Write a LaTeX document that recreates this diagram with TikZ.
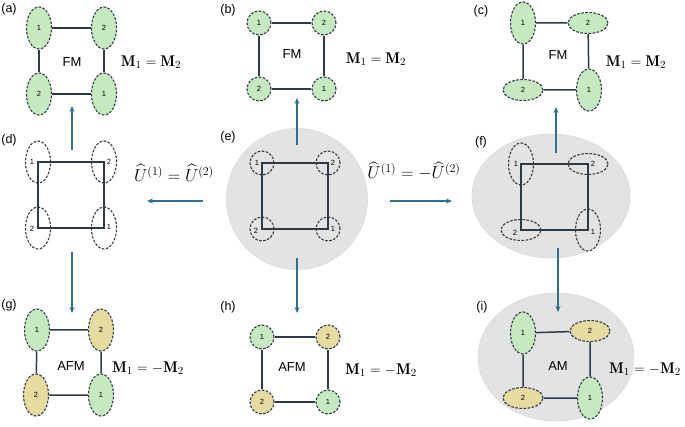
\documentclass[tikz,border=0pt]{standalone}
\usepackage{amsmath, amssymb}
\usepackage{fontspec}
\setsansfont{Liberation Sans}
\usepackage{tikz}
\usetikzlibrary{shapes.geometric, arrows.meta, positioning}

\definecolor{sitegreen}{HTML}{C6E9C0}
\definecolor{sitetan}{HTML}{E6DBA0}
\definecolor{bondgray}{HTML}{2E3B47}
\definecolor{flowteal}{HTML}{2F6F8F}
\definecolor{bubblegray}{HTML}{E3E3E3}

\begin{document}
\begin{tikzpicture}[x=1pt, y=-1pt,
        site/.style={draw=bondgray, dash pattern=on 2.6pt off 1.5pt, line width=1.1pt, inner sep=0pt, font=\sffamily\fontsize{7.5}{7.5}\selectfont},
        vsite/.style={site, ellipse, minimum width=25pt, minimum height=42pt},
        hsite/.style={site, ellipse, minimum width=40pt, minimum height=21pt},
        rsite/.style={site, circle, minimum size=24pt},
        up/.style={fill=sitegreen},
        dn/.style={fill=sitetan},
        num/.style={font=\sffamily\fontsize{7.5}{7.5}\selectfont, inner sep=0pt},
        bond/.style={draw=bondgray, line width=1.5pt},
        flow/.style={draw=flowteal, line width=1.3pt, -{Stealth[length=6pt, width=5pt]}},
        tag/.style={font=\sffamily\fontsize{12.5}{12.5}\selectfont},
        phase/.style={font=\sffamily\fontsize{13}{13}\selectfont},
        rel/.style={font=\fontsize{15.5}{15.5}\selectfont},
        cond/.style={font=\fontsize{17}{17}\selectfont},
        bubble/.style={fill=bubblegray, draw=gray!30, line width=0.6pt}
    ]
    \useasboundingbox (0,0) rectangle (685,427);

    % grey backgrounds
    \node[bubble, circle, minimum size=141pt] (ebub) at (297,199) {};
    \node[bubble, ellipse, minimum width=158pt, minimum height=124pt] (fbub) at (551,196) {};
    \node[bubble, ellipse, minimum width=156pt, minimum height=128pt] (ibub) at (556,357) {};

    % (a) FM
    \node[tag] (atag) at (9,9) {(a)};
    \node[vsite, up] (a1) at (39,28) {1};
    \node[vsite, up] (a2) at (104,28) {2};
    \node[vsite, up] (a3) at (39,94) {2};
    \node[vsite, up] (a4) at (104,94) {1};
    \draw[bond] (a1) -- (a2) -- (a4) -- (a3) -- (a1);
    \node[phase] (aname) at (72,62) {FM};
    \node[rel] (arel) at (151,62) {$\mathbf{M}_1=\mathbf{M}_2$};

    % (b) FM
    \node[tag] (btag) at (228,10) {(b)};
    \node[rsite, up] (b1) at (259,23) {1};
    \node[rsite, up] (b2) at (324,23) {2};
    \node[rsite, up] (b3) at (259,89) {2};
    \node[rsite, up] (b4) at (324,89) {1};
    \draw[bond] (b1) -- (b2) -- (b4) -- (b3) -- (b1);
    \node[phase] (bname) at (292,54) {FM};
    \node[rel] (brel) at (376,59) {$\mathbf{M}_1=\mathbf{M}_2$};

    % (c) FM
    \node[tag] (ctag) at (481,11) {(c)};
    \node[vsite, up] (c1) at (523,23) {1};
    \node[hsite, up] (c2) at (588,23) {2};
    \node[hsite, up] (c3) at (523,90) {2};
    \node[vsite, up] (c4) at (589,90) {1};
    \draw[bond] (c1) -- (c2) -- (c4) -- (c3) -- (c1);
    \node[phase] (cname) at (558,55) {FM};
    \node[rel] (crel) at (636,62) {$\mathbf{M}_1=\mathbf{M}_2$};

    % (d) lattice, U1 = U2
    \node[tag] (dtag) at (9,140) {(d)};
    \node[vsite, label={[num, xshift=-6pt]center:1}] (d1) at (38,162) {};
    \node[vsite, label={[num, xshift=5pt]center:2}] (d2) at (104,162) {};
    \node[vsite, label={[num, xshift=-6pt, yshift=-1pt]center:2}] (d3) at (38,228) {};
    \node[vsite, label={[num, xshift=5pt, yshift=1pt]center:1}] (d4) at (104,228) {};
    \draw[bond] (d1.center) -- (d2.center) -- (d4.center) -- (d3.center) -- cycle;

    % (e) lattice
    \node[tag] (etag) at (228,137) {(e)};
    \node[rsite, label={[num, xshift=-5pt]center:1}] (e1) at (262,163) {};
    \node[rsite, label={[num, xshift=5pt]center:2}] (e2) at (328,163) {};
    \node[rsite, label={[num, xshift=-6pt, yshift=-2pt]center:2}] (e3) at (262,229) {};
    \node[rsite, label={[num, xshift=5pt]center:1}] (e4) at (328,229) {};
    \draw[bond] (e1.center) -- (e2.center) -- (e4.center) -- (e3.center) -- cycle;

    % (f) lattice, U1 = -U2
    \node[tag] (ftag) at (481,142) {(f)};
    \node[vsite, label={[num, xshift=-5pt]center:1}] (f1) at (521,164) {};
    \node[hsite, label={[num, xshift=5pt]center:2}] (f2) at (588,164) {};
    \node[hsite, label={[num, xshift=-6pt, yshift=-3pt]center:2}] (f3) at (521,230) {};
    \node[vsite, label={[num, xshift=5pt, yshift=-2pt]center:1}] (f4) at (588,230) {};
    \draw[bond] (f1.center) -- (f2.center) -- (f4.center) -- (f3.center) -- cycle;

    % (g) AFM
    \node[tag] (gtag) at (9,305) {(g)};
    \node[vsite, up] (g1) at (37,330) {1};
    \node[vsite, dn] (g2) at (101,330) {2};
    \node[vsite, dn] (g3) at (36,395) {2};
    \node[vsite, up] (g4) at (101,395) {1};
    \draw[bond] (g1) -- (g2) -- (g4) -- (g3) -- (g1);
    \node[phase] (gname) at (71,366) {AFM};
    \node[rel] (grel) at (148,368) {$\mathbf{M}_1=-\mathbf{M}_2$};

    % (h) AFM
    \node[tag] (htag) at (228,307) {(h)};
    \node[rsite, up] (h1) at (262,337) {1};
    \node[rsite, dn] (h2) at (328,337) {2};
    \node[rsite, dn] (h3) at (262,402) {2};
    \node[rsite, up] (h4) at (328,402) {1};
    \draw[bond] (h1) -- (h2) -- (h4) -- (h3) -- (h1);
    \node[phase] (hname) at (292,367) {AFM};
    \node[rel] (hrel) at (381,370) {$\mathbf{M}_1=-\mathbf{M}_2$};

    % (i) AM
    \node[tag] (itag) at (482,307) {(i)};
    \node[vsite, up] (i1) at (523,333) {1};
    \node[hsite, dn] (i2) at (590,331) {2};
    \node[hsite, dn] (i3) at (523,398) {2};
    \node[vsite, up] (i4) at (590,398) {1};
    \draw[bond] (i1) -- (i2) -- (i4) -- (i3) -- (i1);
    \node[phase] (iname) at (558,366) {AM};
    \node[rel] (irel) at (645,369) {$\mathbf{M}_1=-\mathbf{M}_2$};

    % symmetry conditions
    \node[cond] (same) at (174,173) {$\widehat{U}^{(1)}=\widehat{U}^{(2)}$};
    \node[cond] (flip) at (414,171) {$\widehat{U}^{(1)}=-\widehat{U}^{(2)}$};

    % arrows between panels
    \coordinate (eN) at (297,145);  \coordinate (bS) at (297,98);
    \coordinate (eS) at (297,258);  \coordinate (hN) at (297,313);
    \coordinate (eW) at (203,201);  \coordinate (dE) at (147,201);
    \coordinate (eE) at (390,201);  \coordinate (fW) at (452,201);
    \coordinate (dN) at (72,150);   \coordinate (aS) at (72,106);
    \coordinate (dS) at (72,252);   \coordinate (gN) at (72,313);
    \coordinate (fN) at (556,153);  \coordinate (cS) at (556,107);
    \coordinate (fS) at (558,248);  \coordinate (iN) at (558,312);
    \draw[flow] (eN) -- (bS);
    \draw[flow] (eS) -- (hN);
    \draw[flow] (eW) -- (dE);
    \draw[flow] (eE) -- (fW);
    \draw[flow] (dN) -- (aS);
    \draw[flow] (dS) -- (gN);
    \draw[flow] (fN) -- (cS);
    \draw[flow] (fS) -- (iN);
\end{tikzpicture}
\end{document}
